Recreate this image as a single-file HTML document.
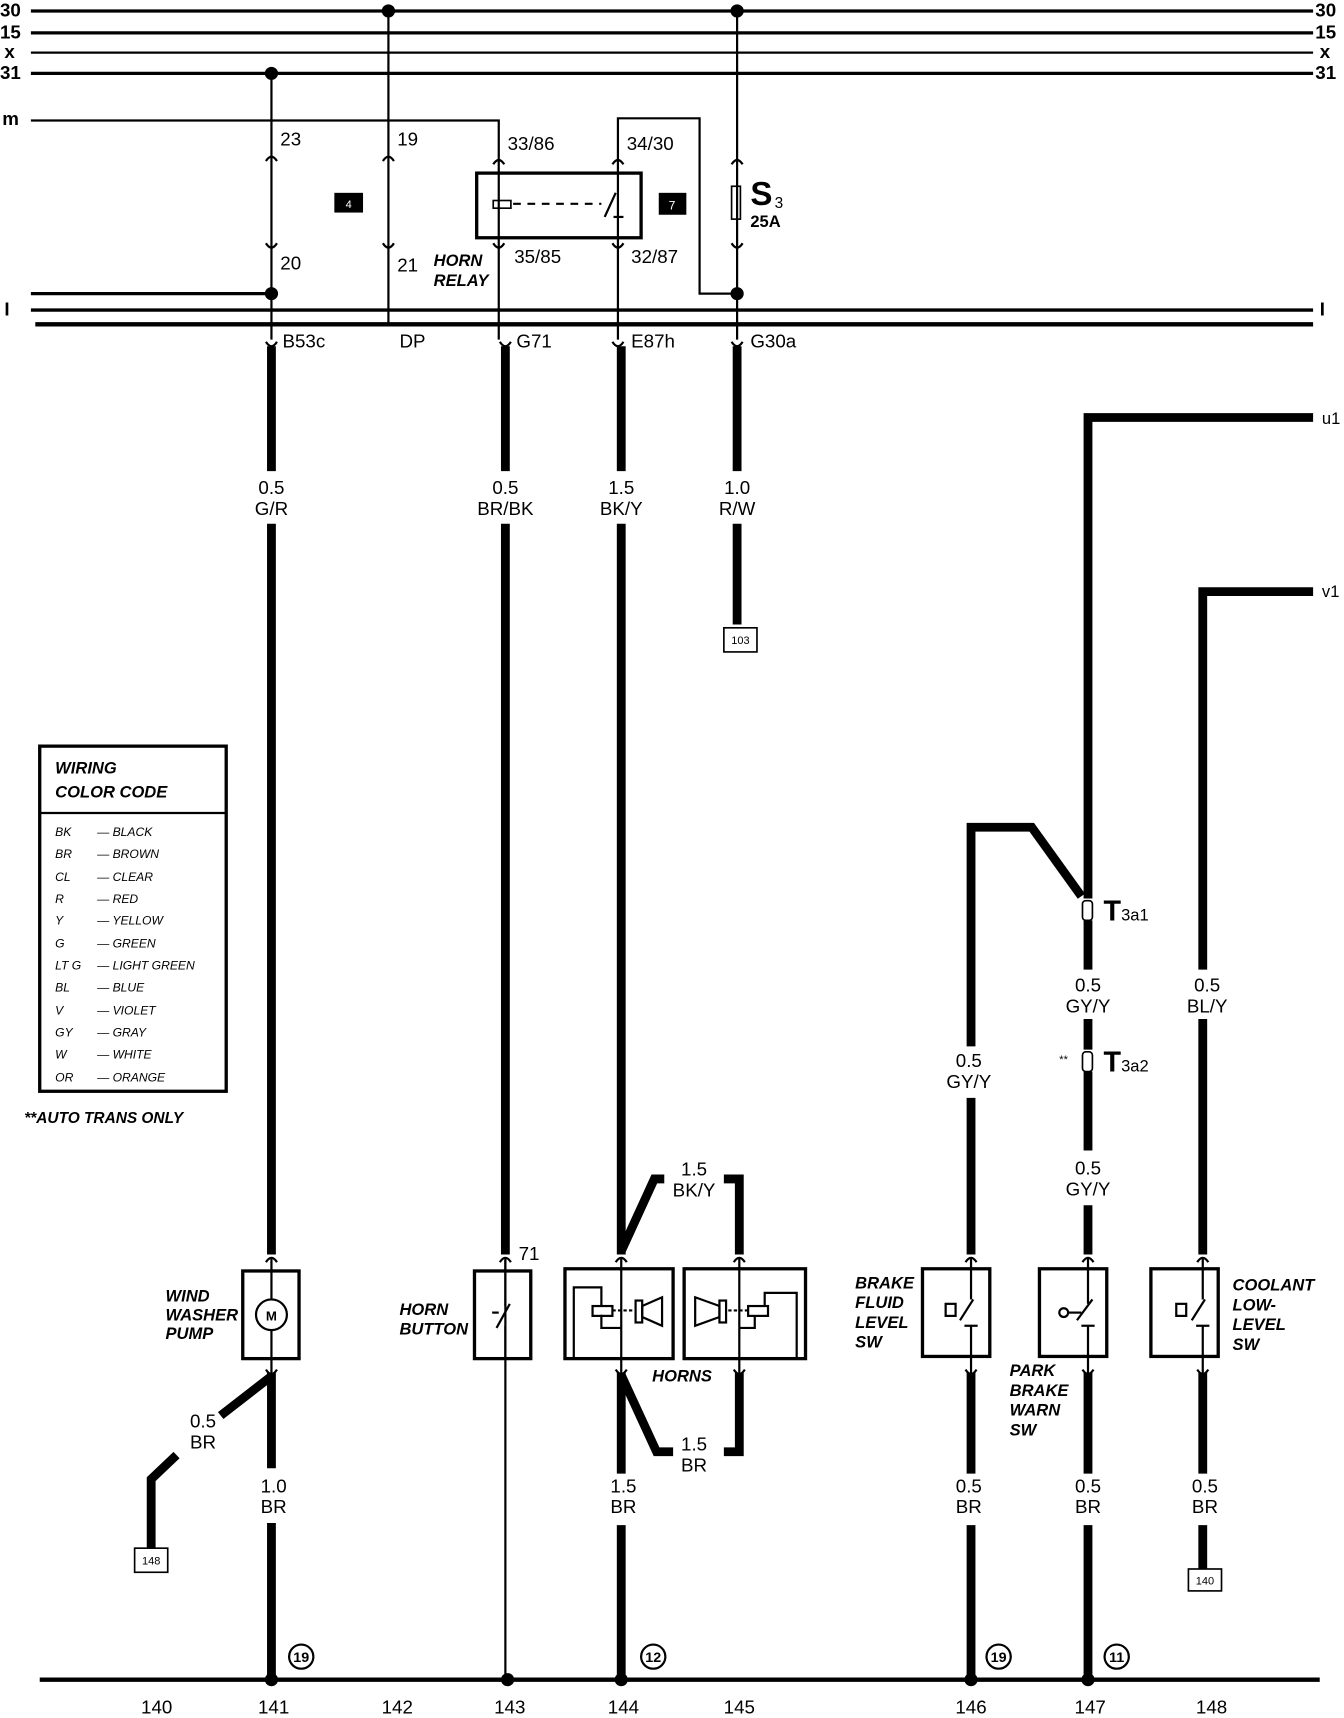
<!DOCTYPE html>
<html><head><meta charset="utf-8"><style>
html,body{margin:0;padding:0;background:#fff;}
svg{display:block;}
text{font-family:"Liberation Sans",sans-serif;fill:#000;}
.t{font-size:17px;}
.b{font-size:15px;font-weight:bold;font-style:italic;}
.s{font-size:11px;font-style:italic;}
</style></head><body>
<svg width="1344" height="1718" viewBox="0 0 1218 1568" preserveAspectRatio="none" xmlns="http://www.w3.org/2000/svg">
<rect width="1218" height="1568" fill="#fff"/>
<g stroke="#000" fill="none">
<line x1="28" y1="10" x2="1190" y2="10" stroke-width="3"/>
<line x1="28" y1="30" x2="1190" y2="30" stroke-width="3"/>
<line x1="28" y1="48" x2="1190" y2="48" stroke-width="2"/>
<line x1="28" y1="67" x2="1190" y2="67" stroke-width="3"/>
<polyline points="28,110 452,110 452,310" stroke-width="2"/>
<line x1="28" y1="268" x2="246" y2="268" stroke-width="3"/>
<line x1="28" y1="283" x2="1190" y2="283" stroke-width="3"/>
<line x1="32" y1="296" x2="1190" y2="296" stroke-width="4"/>
<line x1="246" y1="67" x2="246" y2="310" stroke-width="2"/>
<line x1="352" y1="10" x2="352" y2="296" stroke-width="2"/>
<polyline points="560,310 560,108 634,108 634,268 668,268" stroke-width="2"/>
<line x1="668" y1="10" x2="668" y2="310" stroke-width="2"/>
<g stroke-width="2">
<path d="M241,147 q5,-8 10,0"/><path d="M241,222 q5,8 10,0"/>
<path d="M347,147 q5,-8 10,0"/><path d="M347,222 q5,8 10,0"/>
<path d="M447,150 q5,-8 10,0"/><path d="M447,222 q5,8 10,0"/>
<path d="M555,150 q5,-8 10,0"/><path d="M555,222 q5,8 10,0"/>
<path d="M663,150 q5,-8 10,0"/><path d="M663,222 q5,8 10,0"/>
<path d="M241,312 q5,8 10,0"/><path d="M453,312 q5,8 10,0"/><path d="M555,312 q5,8 10,0"/><path d="M663,312 q5,8 10,0"/>
</g>
<rect x="432" y="158" width="149" height="59" stroke-width="3"/>
<rect x="447" y="183" width="16" height="7" stroke-width="1.5"/>
<line x1="465" y1="186" x2="545" y2="186" stroke-width="2" stroke-dasharray="7,6"/>
<line x1="548" y1="198" x2="558" y2="176" stroke-width="2"/>
<line x1="556" y1="198" x2="565" y2="198" stroke-width="2"/>
<rect x="663" y="170" width="8" height="30" stroke-width="1.5"/>
<g stroke-width="8">
<line x1="246" y1="316" x2="246" y2="430"/><line x1="246" y1="478" x2="246" y2="1145"/>
<line x1="458" y1="316" x2="458" y2="430"/><line x1="458" y1="478" x2="458" y2="1145"/>
<line x1="563" y1="316" x2="563" y2="430"/><line x1="563" y1="478" x2="563" y2="1145"/>
<polyline points="563,1142 593,1076 602,1076"/>
<polyline points="656,1076 670,1076 670,1145"/>
<line x1="668" y1="316" x2="668" y2="430"/><line x1="668" y1="478" x2="668" y2="570"/>
<polyline points="1190,381 986,381 986,820"/>
<polyline points="880,955 880,755 935,755 980,818"/>
<line x1="880" y1="1002" x2="880" y2="1145"/>
<line x1="986" y1="840" x2="986" y2="885"/><line x1="986" y1="930" x2="986" y2="958"/>
<line x1="986" y1="978" x2="986" y2="1050"/><line x1="986" y1="1100" x2="986" y2="1145"/>
<polyline points="1190,540 1090,540 1090,885"/><line x1="1090" y1="930" x2="1090" y2="1145"/>
<line x1="246" y1="1253" x2="246" y2="1340"/><line x1="246" y1="1390" x2="246" y2="1530"/>
<polyline points="246,1256 200,1292"/><polyline points="160,1328 137,1350 137,1413"/>
<line x1="563" y1="1253" x2="563" y2="1345"/><line x1="563" y1="1392" x2="563" y2="1530"/>
<polyline points="563,1255 595,1325 610,1325"/>
<polyline points="656,1325 670,1325 670,1253"/>
<line x1="880" y1="1253" x2="880" y2="1345"/><line x1="880" y1="1392" x2="880" y2="1530"/>
<line x1="986" y1="1253" x2="986" y2="1345"/><line x1="986" y1="1392" x2="986" y2="1530"/>
<line x1="1090" y1="1253" x2="1090" y2="1345"/><line x1="1090" y1="1392" x2="1090" y2="1432"/>
</g>
<line x1="458" y1="1150" x2="458" y2="1530" stroke-width="2"/>
<line x1="36" y1="1533" x2="1196" y2="1533" stroke-width="4"/>
<g stroke-width="3">
<rect x="220" y="1160" width="51" height="80"/>
<rect x="430" y="1160" width="51" height="80"/>
<rect x="512" y="1158" width="98" height="82"/>
<rect x="620" y="1158" width="110" height="82"/>
<rect x="836" y="1158" width="61" height="80"/>
<rect x="942" y="1158" width="61" height="80"/>
<rect x="1043" y="1158" width="61" height="80"/>
</g>
<g stroke-width="2">
<line x1="246" y1="1148" x2="246" y2="1256"/>
<circle cx="246" cy="1200" r="14" fill="#fff"/>
<line x1="458" y1="1148" x2="458" y2="1192"/><line x1="450" y1="1212" x2="462" y2="1190"/><line x1="452" y1="1198" x2="446" y2="1198"/><line x1="458" y1="1210" x2="458" y2="1240"/>
<line x1="563" y1="1148" x2="563" y2="1256"/>
<polyline points="520,1240 520,1175 545,1175 545,1192"/><polyline points="545,1200 545,1212 563,1212"/>
<rect x="537" y="1192" width="18" height="9"/><line x1="555" y1="1196" x2="575" y2="1196" stroke-dasharray="3,2"/>
<rect x="576" y="1187" width="6" height="20"/><polygon points="582,1192 600,1184 600,1210 582,1202"/>
<line x1="670" y1="1148" x2="670" y2="1256"/>
<polyline points="722,1240 722,1180 693,1180 693,1192"/><polyline points="684,1202 684,1212 670,1212"/>
<rect x="678" y="1192" width="18" height="9"/><line x1="660" y1="1196" x2="678" y2="1196" stroke-dasharray="3,2"/>
<rect x="652" y="1187" width="6" height="20"/><polygon points="652,1192 630,1184 630,1210 652,1202"/>
<line x1="880" y1="1148" x2="880" y2="1186"/><line x1="870" y1="1205" x2="882" y2="1186"/><line x1="880" y1="1210" x2="880" y2="1256"/><line x1="874" y1="1210" x2="886" y2="1210"/><rect x="857" y="1190" width="9" height="11"/>
<line x1="986" y1="1148" x2="986" y2="1190"/><line x1="976" y1="1205" x2="990" y2="1186"/><line x1="986" y1="1210" x2="986" y2="1256"/><line x1="980" y1="1210" x2="992" y2="1210"/><circle cx="964" cy="1198" r="4"/><line x1="968" y1="1198" x2="980" y2="1198"/>
<line x1="1090" y1="1148" x2="1090" y2="1186"/><line x1="1080" y1="1205" x2="1092" y2="1186"/><line x1="1090" y1="1210" x2="1090" y2="1256"/><line x1="1084" y1="1210" x2="1096" y2="1210"/><rect x="1066" y="1190" width="9" height="11"/>
</g>
<g stroke-width="2">
<path d="M241,1152 q5,-8 10,0"/><path d="M241,1250 q5,8 10,0"/>
<path d="M453,1152 q5,-8 10,0"/>
<path d="M558,1152 q5,-8 10,0"/><path d="M558,1250 q5,8 10,0"/>
<path d="M665,1152 q5,-8 10,0"/><path d="M665,1250 q5,8 10,0"/>
<path d="M875,1152 q5,-8 10,0"/><path d="M875,1250 q5,8 10,0"/>
<path d="M981,1152 q5,-8 10,0"/><path d="M981,1250 q5,8 10,0"/>
<path d="M1085,1152 q5,-8 10,0"/><path d="M1085,1250 q5,8 10,0"/>
</g>
<rect x="656" y="573" width="30" height="22" stroke-width="1.5"/>
<rect x="122" y="1413" width="30" height="22" stroke-width="1.5"/>
<rect x="1077" y="1432" width="30" height="20" stroke-width="1.5"/>
<rect x="36" y="681" width="169" height="315" stroke-width="3"/>
<line x1="36" y1="742" x2="205" y2="742" stroke-width="2"/>
<g stroke-width="2">
<circle cx="273" cy="1512" r="11"/><circle cx="592" cy="1512" r="11"/><circle cx="905" cy="1512" r="11"/><circle cx="1012" cy="1512" r="11"/>
</g>
<rect x="981" y="822" width="9" height="18" rx="3" stroke-width="1.5" fill="#fff"/>
<rect x="981" y="960" width="9" height="18" rx="3" stroke-width="1.5" fill="#fff"/>
</g>
<g fill="#000">
<circle cx="352" cy="10" r="6"/><circle cx="668" cy="10" r="6"/><circle cx="246" cy="67" r="6"/>
<circle cx="246" cy="268" r="6"/><circle cx="668" cy="268" r="6"/>
<circle cx="246" cy="1533" r="6"/><circle cx="460" cy="1533" r="6"/><circle cx="563" cy="1533" r="6"/><circle cx="880" cy="1533" r="6"/><circle cx="986" cy="1533" r="6"/>
<rect x="303" y="176" width="26" height="18"/><rect x="597" y="176" width="25" height="20"/>
</g>
<text x="316" y="190" font-size="10" style="fill:#fff" text-anchor="middle">4</text>
<text x="609" y="191" font-size="11" style="fill:#fff" text-anchor="middle">7</text>
<g class="t" font-weight="bold">
<text x="0" y="15">30</text><text x="0" y="35">15</text><text x="4" y="53">x</text><text x="0" y="72">31</text><text x="2" y="114">m</text><text x="4" y="288">I</text>
<text x="1192" y="15">30</text><text x="1192" y="35">15</text><text x="1196" y="53">x</text><text x="1192" y="72">31</text><text x="1196" y="288">I</text>
</g>
<g class="t">
<text x="254" y="133">23</text><text x="360" y="133">19</text><text x="460" y="137">33/86</text><text x="568" y="137">34/30</text>
<text x="254" y="246">20</text><text x="360" y="248">21</text><text x="466" y="240">35/85</text><text x="572" y="240">32/87</text>
<text x="256" y="317">B53c</text><text x="362" y="317">DP</text><text x="468" y="317">G71</text><text x="572" y="317">E87h</text><text x="680" y="317">G30a</text>
<text x="1198" y="387" font-size="15">u1</text><text x="1198" y="545" font-size="15">v1</text>
<text x="470" y="1150">71</text>
</g>
<text x="680" y="187" font-size="30" font-weight="bold">S</text><text x="702" y="190" font-size="14">3</text>
<text x="680" y="207" font-size="15" font-weight="bold">25A</text>
<text x="1000" y="840" font-size="26" font-weight="bold">T</text><text x="1016" y="840" font-size="15">3a1</text>
<text x="1000" y="978" font-size="26" font-weight="bold">T</text><text x="1016" y="978" font-size="15">3a2</text>
<text x="960" y="970" font-size="10">**</text>
<g class="t" text-anchor="middle">
<text x="246" y="451">0.5</text><text x="246" y="470">G/R</text>
<text x="458" y="451">0.5</text><text x="458" y="470">BR/BK</text>
<text x="563" y="451">1.5</text><text x="563" y="470">BK/Y</text>
<text x="668" y="451">1.0</text><text x="668" y="470">R/W</text>
<text x="629" y="1073">1.5</text><text x="629" y="1092">BK/Y</text>
<text x="878" y="974">0.5</text><text x="878" y="993">GY/Y</text>
<text x="986" y="905">0.5</text><text x="986" y="924">GY/Y</text>
<text x="986" y="1072">0.5</text><text x="986" y="1091">GY/Y</text>
<text x="1094" y="905">0.5</text><text x="1094" y="924">BL/Y</text>
<text x="184" y="1303">0.5</text><text x="184" y="1322">BR</text>
<text x="248" y="1362">1.0</text><text x="248" y="1381">BR</text>
<text x="565" y="1362">1.5</text><text x="565" y="1381">BR</text>
<text x="629" y="1324">1.5</text><text x="629" y="1343">BR</text>
<text x="878" y="1362">0.5</text><text x="878" y="1381">BR</text>
<text x="986" y="1362">0.5</text><text x="986" y="1381">BR</text>
<text x="1092" y="1362">0.5</text><text x="1092" y="1381">BR</text>
<text x="142" y="1564">140</text><text x="248" y="1564">141</text><text x="360" y="1564">142</text><text x="462" y="1564">143</text><text x="565" y="1564">144</text><text x="670" y="1564">145</text><text x="880" y="1564">146</text><text x="988" y="1564">147</text><text x="1098" y="1564">148</text>
</g>
<g text-anchor="middle" font-size="13" font-weight="bold">
<text x="273" y="1517">19</text><text x="592" y="1517">12</text><text x="905" y="1517">19</text><text x="1012" y="1517">11</text>
</g>
<g font-size="10" text-anchor="middle"><text x="671" y="588">103</text><text x="137" y="1428">148</text><text x="1092" y="1446">140</text></g>
<text x="246" y="1205" font-size="12" font-weight="bold" text-anchor="middle">M</text>
<g class="b">
<text x="393" y="243">HORN</text><text x="393" y="261">RELAY</text>
<text x="150" y="1188">WIND</text><text x="150" y="1205">WASHER</text><text x="150" y="1222">PUMP</text>
<text x="362" y="1200">HORN</text><text x="362" y="1218">BUTTON</text>
<text x="591" y="1261">HORNS</text>
<text x="775" y="1176">BRAKE</text><text x="775" y="1194">FLUID</text><text x="775" y="1212">LEVEL</text><text x="775" y="1230">SW</text>
<text x="915" y="1256">PARK</text><text x="915" y="1274">BRAKE</text><text x="915" y="1292">WARN</text><text x="915" y="1310">SW</text>
<text x="1117" y="1178">COOLANT</text><text x="1117" y="1196">LOW-</text><text x="1117" y="1214">LEVEL</text><text x="1117" y="1232">SW</text>
<text x="50" y="706">WIRING</text><text x="50" y="728">COLOR CODE</text>
<text x="22" y="1025" font-size="14">**AUTO TRANS ONLY</text>
</g>
<g class="s">
<text x="50" y="763">BK</text><text x="88" y="763">— BLACK</text>
<text x="50" y="783">BR</text><text x="88" y="783">— BROWN</text>
<text x="50" y="804">CL</text><text x="88" y="804">— CLEAR</text>
<text x="50" y="824">R</text><text x="88" y="824">— RED</text>
<text x="50" y="844">Y</text><text x="88" y="844">— YELLOW</text>
<text x="50" y="865">G</text><text x="88" y="865">— GREEN</text>
<text x="50" y="885">LT G</text><text x="88" y="885">— LIGHT GREEN</text>
<text x="50" y="905">BL</text><text x="88" y="905">— BLUE</text>
<text x="50" y="926">V</text><text x="88" y="926">— VIOLET</text>
<text x="50" y="946">GY</text><text x="88" y="946">— GRAY</text>
<text x="50" y="966">W</text><text x="88" y="966">— WHITE</text>
<text x="50" y="987">OR</text><text x="88" y="987">— ORANGE</text>
</g>
</svg>
</body></html>
